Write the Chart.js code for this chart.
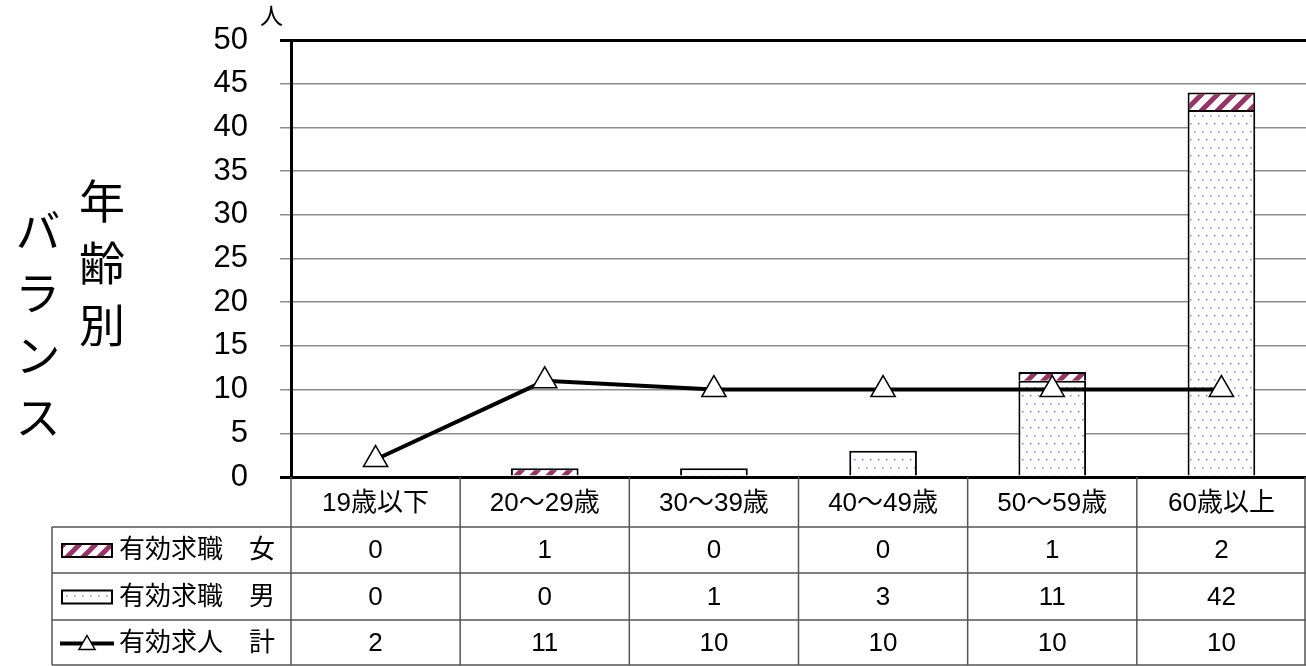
<!DOCTYPE html>
<html>
<head>
<meta charset="utf-8">
<script src="https://cdn.jsdelivr.net/npm/chart.js@4/dist/chart.umd.min.js"></script>
<style>
  body { margin: 0; background: #fff; }
  #wrap { position: relative; width: 1306px; height: 666px; overflow: hidden; }
  .title {
    position: absolute;
    font-family: "Noto Sans CJK JP", sans-serif;
    font-size: 46px;
    line-height: 1;
    writing-mode: vertical-rl;
    letter-spacing: 16px;
    color: #000;
  }
  #t1 { left: 79px; top: 178px; }
  #t2 { left: 15px; top: 208px; }
  #unit {
    position: absolute; left: 260px; top: 3px;
    font-family: "Noto Sans CJK JP", sans-serif; font-size: 23px; line-height: 1;
  }
</style>
</head>
<body>
<div id="wrap">
  <canvas id="chart" width="1306" height="666"></canvas>
  <div class="title" id="t1">年齢別</div>
  <div class="title" id="t2">バランス</div>
  <div id="unit">人</div>
</div>
<script>
// 年齢区分
const ageGroups = ["19歳以下", "20～29歳", "30～39歳", "40～49歳", "50～59歳", "60歳以上"];
// 有効求職（女・男）と有効求人（計）
const seekersFemale = [0, 1, 0, 0, 1, 2];
const seekersMale = [0, 0, 1, 3, 11, 42];
const openingsTotal = [2, 11, 10, 10, 10, 10];
const rowLabels = ["有効求職　女", "有効求職　男", "有効求人　計"];

const FONT = '"Liberation Sans", "Noto Sans CJK JP", sans-serif';

// 斜線パターン（女）
function makeStripe() {
  const c = document.createElement('canvas');
  c.width = 16; c.height = 16;
  const g = c.getContext('2d');
  g.fillStyle = '#fff';
  g.fillRect(0, 0, 16, 16);
  g.strokeStyle = '#993366';
  g.lineWidth = 5;
  g.beginPath();
  g.moveTo(-4, 20); g.lineTo(20, -4);
  g.moveTo(-12, 12); g.lineTo(12, -12);
  g.moveTo(4, 28); g.lineTo(28, 4);
  g.stroke();
  return c;
}
// 点パターン（男）
function makeDots() {
  const c = document.createElement('canvas');
  c.width = 8; c.height = 16;
  const g = c.getContext('2d');
  g.fillStyle = '#fff';
  g.fillRect(0, 0, 8, 16);
  g.fillStyle = '#8080ff';
  g.fillRect(2, 3, 1.5, 1.5);
  g.fillRect(6, 11, 1.5, 1.5);
  return c;
}

const ctx = document.getElementById('chart').getContext('2d');
const stripe = ctx.createPattern(makeStripe(), 'repeat');
const dots = ctx.createPattern(makeDots(), 'repeat');

// 凡例付きの表を描く
const tablePlugin = {
  id: 'dataTable',
  afterDraw(chart) {
    const g = chart.ctx;
    const x = chart.scales.x;
    const area = chart.chartArea;
    const left = 52, right = 1305;
    const rows = [area.bottom, 527, 573, 620, 665];
    const step = x.getPixelForValue(1) - x.getPixelForValue(0);
    g.save();
    // 罫線
    g.strokeStyle = '#555';
    g.lineWidth = 1.5;
    g.beginPath();
    for (let r = 1; r < rows.length; r++) {
      g.moveTo(left, rows[r]); g.lineTo(right + 1, rows[r]);
    }
    g.moveTo(left, rows[1]); g.lineTo(left, rows[4]);
    g.moveTo(area.left, rows[0]); g.lineTo(area.left, rows[4]);
    for (let i = 0; i < ageGroups.length; i++) {
      const xr = x.getPixelForValue(i) + step / 2;
      g.moveTo(Math.min(xr, right), rows[0]); g.lineTo(Math.min(xr, right), rows[4]);
    }
    g.stroke();

    // 区分ラベル
    g.fillStyle = '#000';
    g.textAlign = 'center';
    g.textBaseline = 'middle';
    g.font = '26px ' + FONT;
    ageGroups.forEach((t, i) => g.fillText(t, x.getPixelForValue(i), (rows[0] + rows[1]) / 2 + 2));

    // 値
    const series = [seekersFemale, seekersMale, openingsTotal];
    series.forEach((vals, r) => {
      const cy = (rows[r + 1] + rows[r + 2]) / 2 + 1;
      vals.forEach((v, i) => g.fillText(String(v), x.getPixelForValue(i), cy));
      // 行見出し
      g.textAlign = 'left';
      g.fillText(rowLabels[r], 119, cy);
      g.textAlign = 'center';
      // 凡例記号
      if (r < 2) {
        g.fillStyle = r === 0 ? stripe : dots;
        g.fillRect(62, cy - 7, 50, 13);
        g.strokeStyle = '#000';
        g.lineWidth = 2;
        g.strokeRect(62, cy - 7, 50, 13);
        g.fillStyle = '#000';
      } else {
        g.strokeStyle = '#000';
        g.lineWidth = 4;
        g.beginPath();
        g.moveTo(60, cy); g.lineTo(114, cy);
        g.stroke();
        g.fillStyle = '#fff';
        g.lineWidth = 1.5;
        g.beginPath();
        g.moveTo(87, cy - 8); g.lineTo(95, cy + 6); g.lineTo(79, cy + 6); g.closePath();
        g.fill(); g.stroke();
        g.fillStyle = '#000';
      }
    });
    g.restore();
  }
};

new Chart(ctx, {
  data: {
    labels: ageGroups,
    datasets: [
      {
        type: 'line',
        label: rowLabels[2],
        data: openingsTotal,
        stack: 'line',
        order: 0,
        borderColor: '#000',
        borderWidth: 4,
        pointStyle: 'triangle',
        pointRadius: 14,
        pointBackgroundColor: '#fff',
        pointBorderColor: '#000',
        pointBorderWidth: 1.5,
        tension: 0
      },
      {
        type: 'bar',
        label: rowLabels[1],
        data: seekersMale,
        stack: 'seek',
        order: 1,
        backgroundColor: dots,
        borderColor: '#000',
        borderWidth: 2,
        barPercentage: 0.4,
        categoryPercentage: 1
      },
      {
        type: 'bar',
        label: rowLabels[0],
        data: seekersFemale,
        stack: 'seek',
        order: 2,
        backgroundColor: stripe,
        borderColor: '#000',
        borderWidth: 2,
        barPercentage: 0.4,
        categoryPercentage: 1
      }
    ]
  },
  options: {
    responsive: false,
    animation: false,
    layout: { autoPadding: false, padding: { top: 40, bottom: 189, left: 0, right: 0 } },
    plugins: { legend: { display: false }, tooltip: { enabled: false } },
    scales: {
      x: { display: false },
      y: {
        stacked: true,
        min: 0,
        max: 50,
        afterFit(scale) {
          scale.width = 291;
          scale.paddingTop = 0;
          scale.paddingBottom = 0;
        },
        ticks: {
          stepSize: 5,
          color: '#000',
          padding: 32,
          font: { family: FONT, size: 31 }
        },
        grid: {
          tickLength: 11,
          color: c => (c.tick.value === 0 || c.tick.value === 50) ? '#000' : '#8c8c8c',
          lineWidth: c => (c.tick.value === 0 || c.tick.value === 50) ? 3 : 1.5
        },
        border: { color: '#000', width: 3 }
      }
    }
  },
  plugins: [tablePlugin]
});
</script>
</body>
</html>
